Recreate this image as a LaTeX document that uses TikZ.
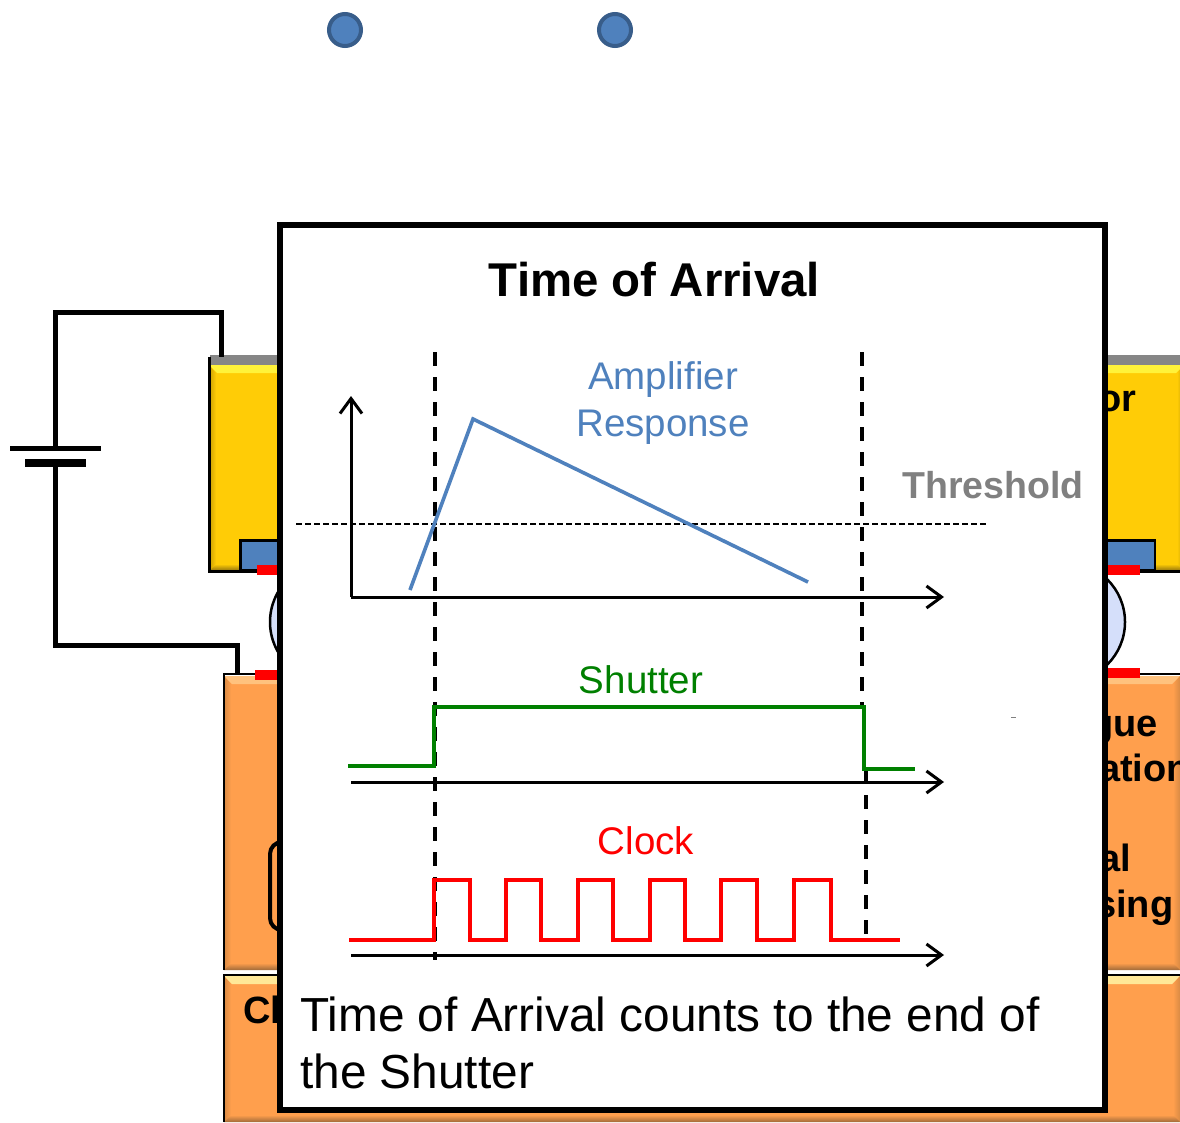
\documentclass[tikz,border=0pt]{standalone}
\usepackage{fontspec}
\setmainfont{Liberation Sans}
\usetikzlibrary{arrows.meta,calc}
\definecolor{yel}{HTML}{FFCC06}
\definecolor{yelT}{HTML}{FFF23A}
\definecolor{yelL}{HTML}{C89E04}
\definecolor{yelB}{HTML}{8C6E0E}
\definecolor{org}{HTML}{FF9F4D}
\definecolor{orgT}{HTML}{FFC27E}
\definecolor{orgTT}{HTML}{FFE898}
\definecolor{orgL}{HTML}{D88A44}
\definecolor{orgB}{HTML}{A06A3A}
\definecolor{blu}{HTML}{4F81BD}
\definecolor{bluD}{HTML}{385D8A}
\definecolor{bump}{HTML}{D5DFFA}
\definecolor{shut}{HTML}{008000}
\newcommand{\bevel}[8]{% x0 y0 x1 y1 main top left/right bottom
  \fill[#5] (#1,#2) rectangle (#3,#4);
  \fill[#6] (#1,#2) -- (#3,#2) -- (#3-8,#2+8) -- (#1+8,#2+8) -- cycle;
  \shade[left color=#7,right color=#5] (#1,#2) -- (#1+7,#2+8) -- (#1+7,#4-7) -- (#1,#4) -- cycle;
  \shade[left color=#5,right color=#7] (#3,#2) -- (#3-7,#2+8) -- (#3-7,#4-7) -- (#3,#4) -- cycle;
  \shade[top color=#5,bottom color=#8] (#1,#4) -- (#3,#4) -- (#3-7,#4-7) -- (#1+7,#4-7) -- cycle;
}
\tikzset{
  x=1pt,y=-1pt,
  wire/.style={draw=black,line width=5pt,line join=miter},
  axisline/.style={draw=black,line width=3pt,-{Straight Barb[length=15pt,width=22pt,line width=3pt]}},
  guide/.style={draw=black,line width=3.6pt,dash pattern=on 14pt off 11pt},
  thresh/.style={draw=black,line width=2.2pt,dash pattern=on 6pt off 3pt},
  sig/.style={line width=3.6pt,line join=miter},
  lab/.style={inner sep=0pt,font=\fontsize{38.5}{44}\selectfont,align=center},
  frag/.style={inner sep=0pt,font=\fontsize{38}{44}\selectfont\bfseries,anchor=base west},
  contact/.style={fill=red,draw=none},
  blubox/.style={fill=blu,draw=black,line width=2.5pt},
  dot/.style={circle,fill=blu,draw=bluD,line width=4pt,minimum size=32pt,inner sep=0pt},
}
\begin{document}
\begin{tikzpicture}
\useasboundingbox (0,0) rectangle (1180,1123);
\clip (0,0) rectangle (1180,1123);
\fill[white] (0,0) rectangle (1180,1123);

\node[dot] (d1) at (345,30) {};
\node[dot] (d2) at (615,30) {};

% bumps
\node[circle,fill=bump,draw=black,line width=2.5pt,minimum size=120pt,inner sep=0pt] (bl) at (330,622) {};
\node[circle,fill=bump,draw=black,line width=2.5pt,minimum size=120pt,inner sep=0pt] (br) at (1065,622) {};

% yellow sensor
\fill[gray!95] (210,355) rectangle (1180,365);
\bevel{209}{365}{1184}{571}{yel}{yelT}{yelL}{yelB}
\draw[black,line width=3pt] (1184,571) -- (209,571) -- (209,357);
\node[frag] (t1) at (1098,411) {or};
\node[blubox,minimum width=50pt,minimum height=30pt,inner sep=0pt,anchor=north west] (bbl) at (239,539) {};
\node[blubox,minimum width=60pt,minimum height=30pt,inner sep=0pt,anchor=north east] (bbr) at (1156,539) {};
\fill[contact] (257,565) rectangle (285,575);
\fill[contact] (1100,565) rectangle (1140,575);

% orange chips
\bevel{224}{676}{1180}{970}{org}{orgT}{orgL}{orgB}
\draw[black,line width=2.5pt] (224,970) -- (224,674) -- (1180,674);
\bevel{224}{976}{1180}{1122}{org}{orgTT}{orgL}{orgB}
\draw[black,line width=2.5pt] (224,1122) -- (224,975) -- (1180,975);
\fill[contact] (255,670) rectangle (285,680);
\fill[contact] (1100,668) rectangle (1140,678);
\node[frag] (t2) at (1090,736) {gue};
\node[frag] (t3) at (1099,781) {ation};
\node[frag] (t4) at (1099,871) {al};
\node[frag] (t5) at (1095,917) {sing};
\node[frag] (t6) at (243,1023) {Cl};
\node[draw=black,line width=4pt,rounded corners=12pt,minimum width=60pt,minimum height=88pt,inner sep=0pt,anchor=north west] (rr) at (268,840) {};

% battery and wires
\coordinate (pA) at (10,448);
\coordinate (pB) at (101,448);
\coordinate (nA) at (25,463);
\coordinate (nB) at (86,463);
\coordinate (topT) at (221,357);
\coordinate (botT) at (237,674);
\coordinate (batP) at (55,448);
\coordinate (batN) at (55,463);
\draw[wire,line width=5pt] (pA) -- (pB);
\draw[wire,line width=8pt] (nA) -- (nB);
\draw[wire] (batP) -- (55,312) -- (221,312) -- (topT);
\draw[wire] (batN) -- (55,645) -- (237,645) -- (botT);

% panel
\node[draw=black,fill=white,line width=5.5pt,minimum width=825pt,minimum height=885pt,inner sep=0pt,anchor=center] (panel) at (692.5,667.5) {};

\node[inner sep=0pt,font=\fontsize{47.4}{50}\selectfont\bfseries] (title) at (654.5,279.5) {Time of Arrival};
\node[lab,text=blu] (amp) at (663,403) {Amplifier\\[3pt]Response};
\node[lab,text=gray,font=\fontsize{37.5}{44}\selectfont\bfseries] (th) at (993,485) {Threshold};
\node[lab,text=shut] (sh) at (641,680) {Shutter};
\node[lab,text=red] (ck) at (646,841) {Clock};

% axes
\coordinate (o) at (351,597);
\coordinate (oy) at (351,396);
\coordinate (ox) at (944,597);
\draw[axisline] (o) -- (oy);
\draw[axisline] (o) -- (ox);
\coordinate (s0) at (351,782); \coordinate (s1) at (944,782);
\coordinate (c0) at (351,955); \coordinate (c1) at (944,955);
\draw[axisline] (s0) -- (s1);
\draw[axisline] (c0) -- (c1);

% guides
\coordinate (gl0) at (435,352); \coordinate (gl1) at (435,960);
\coordinate (gr0) at (862,352); \coordinate (gr1) at (862,707);
\coordinate (gr2) at (866,770); \coordinate (gr3) at (866,940);
\draw[guide] (gl0) -- (gl1);
\draw[guide] (gr0) -- (gr1);
\draw[guide] (gr2) -- (gr3);
\coordinate (t0) at (296,524); \coordinate (t1c) at (987,524);
\draw[thresh] (t0) -- (t1c);
\coordinate (m0) at (1011,717); \coordinate (m1) at (1016,717);
\draw[gray,line width=1pt] (m0) -- (m1);

% signals
\draw[sig,draw=blu] (410,590) -- (473,419) -- (808,582);
\draw[sig,draw=shut] (348,766) -- (434,766) -- (434,707) -- (864,707) -- (864,769) -- (915,769);
\draw[sig,draw=red] (349,940) -- (434,940) -- (434,880) -- (470,880) -- (470,940) -- (506,940) -- (506,880) -- (541,880) -- (541,940) -- (578,940) -- (578,880) -- (613,880) -- (613,940) -- (650,940) -- (650,880) -- (685,880) -- (685,940) -- (721,940) -- (721,880) -- (757,880) -- (757,940) -- (794,940) -- (794,880) -- (831,880) -- (831,940) -- (900,940);

\node[inner sep=0pt,anchor=base west,font=\fontsize{47.8}{57}\selectfont] (cap) at (300,1031) {Time of Arrival counts to the end of};
\node[inner sep=0pt,anchor=base west,font=\fontsize{47.8}{57}\selectfont] (cap2) at (300,1088) {the Shutter};
\end{tikzpicture}
\end{document}
